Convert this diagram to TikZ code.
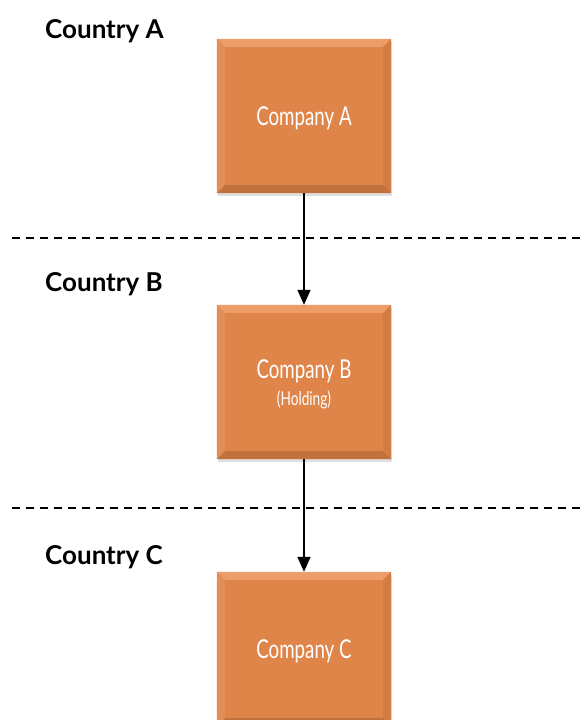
\documentclass[tikz,border=0pt]{standalone}
\usepackage{fontspec}
\usepackage{tikz}
\usepackage{xcolor}
\usetikzlibrary{calc,shadows,arrows.meta}
\setmainfont{Lato}
\newfontfamily\boxfont[FakeStretch=0.72]{Lato}
\definecolor{companycolorc}{HTML}{DF8549}
\definecolor{bevellightc}{HTML}{EC9D68}
\definecolor{beveldarkc}{HTML}{D27B42}
\colorlet{companycolor}{companycolorc}
\colorlet{bevellight}{bevellightc}
\colorlet{beveldark}{beveldarkc}
\newcommand{\bevel}[1]{% bevelled edges of a company box
\fill[bevellight] (#1.north west) -- (#1.north east) -- ($(#1.north east)+(-8,8)$) -- ($(#1.north west)+(8,8)$) -- cycle;
\fill[companycolor!92!white] (#1.north west) -- ($(#1.north west)+(8,8)$) -- ($(#1.south west)+(8,-8)$) -- (#1.south west) -- cycle;
\fill[beveldark] (#1.north east) -- ($(#1.north east)+(-8,8)$) -- ($(#1.south east)+(-8,-8)$) -- (#1.south east) -- cycle;
\fill[beveldark!92!black] (#1.south west) -- ($(#1.south west)+(8,-8)$) -- ($(#1.south east)+(-8,-8)$) -- (#1.south east) -- cycle;
}
\tikzstyle{companybox} = [
    fill=companycolor,
    rectangle,
    minimum width=174pt,
    minimum height=154pt,
    inner sep=0pt,
    drop shadow={shadow xshift=1pt, shadow yshift=-3pt, opacity=0.25}
    ]
\tikzstyle{companyname} = [
    text=white,
    align=center,
    yshift=-2pt,
    font=\boxfont\fontsize{26}{30}\selectfont
    ]
\tikzstyle{countrytitle} = [
    anchor=west,
    font=\bfseries\fontsize{26}{30}\selectfont,
    inner sep=0pt
    ]
\tikzstyle{border} = [
    dash pattern=on 8pt off 6pt,
    line width=1.6pt
    ]
\tikzstyle{owns} = [
    -{Triangle[length=15pt,width=13pt]},
    line width=1.6pt
    ]

\begin{document}
\begin{tikzpicture}[x=1pt,y=-1pt]
\useasboundingbox (0,0) rectangle (585,720);
% countries
\node[countrytitle] (countryA) at (45,31) {Country A};
\node[countrytitle] (countryB) at (45,284) {Country B};
\node[countrytitle] (countryC) at (45,557) {Country C};
% borders
\coordinate (borderABw) at (12,238);
\coordinate (borderABe) at (585,238);
\coordinate (borderBCw) at (12,508);
\coordinate (borderBCe) at (585,508);
\draw[border] (borderABw) -- (borderABe);
\draw[border] (borderBCw) -- (borderBCe);
% companies
\node[companybox] (companyA) at (304,116) {};
\bevel{companyA}
\node[companyname] (nameA) at (companyA) {Company A};
\node[companybox] (companyB) at (304,382) {};
\bevel{companyB}
\node[companyname] (nameB) at (companyB)
    {Company B\\[-3pt]{\fontsize{19}{22}\selectfont (Holding)}};
\node[companybox] (companyC) at (304,649) {};
\bevel{companyC}
\node[companyname] (nameC) at (companyC) {Company C};
% ownership
\draw[owns] (companyA.south) -- (companyB.north);
\draw[owns] (companyB.south) -- (companyC.north);
\end{tikzpicture}
\end{document}
